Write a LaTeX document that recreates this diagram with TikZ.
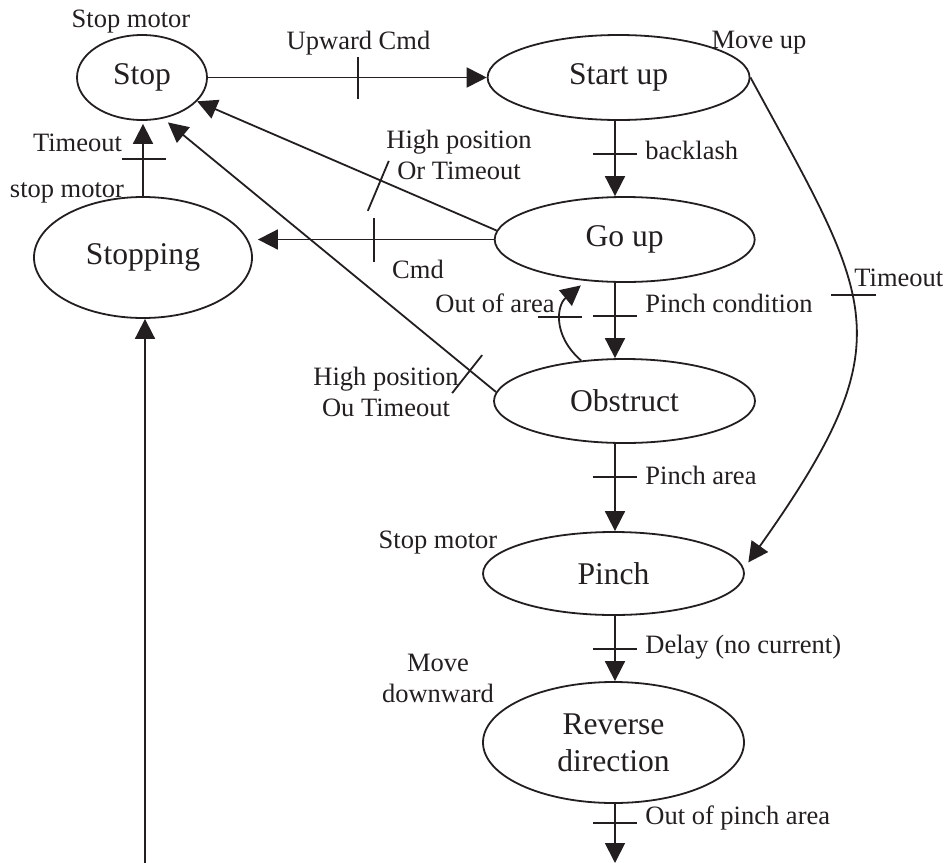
\documentclass[tikz,border=0pt]{standalone}
\usepackage{fontspec}
\setmainfont{Liberation Serif}
\usetikzlibrary{arrows.meta,shapes.geometric,calc}
\definecolor{ink}{HTML}{231F20}
\begin{document}
\begin{tikzpicture}[x=0.5pt,y=-0.5pt,
  state/.style={ellipse,draw=ink,line width=0.9pt,inner sep=0pt,text=ink,
    font=\fontsize{15.8}{18.5}\selectfont,align=center},
  lbl/.style={inner sep=0pt,text=ink,font=\fontsize{13.25}{15.5}\selectfont,align=center},
  trans/.style={draw=ink,line width=0.9pt,-{Triangle[length=10pt,width=10pt]}},
  tickmark/.style={draw=ink,line width=0.9pt},
]
\useasboundingbox (0,0) rectangle (949,863);

% states
\node[state,minimum width=65pt,minimum height=42.5pt]    (stop)     at (142,77.5)    {Stop};
\node[state,minimum width=131pt,minimum height=42.5pt]   (startup)  at (618.6,77.5)  {Start up};
\node[state,minimum width=130pt,minimum height=42.5pt]   (goup)     at (624.7,239.5) {Go up};
\node[state,minimum width=109pt,minimum height=60.5pt]   (stopping) at (143,257.5)   {Stopping};
\node[state,minimum width=130.5pt,minimum height=42pt]   (obstruct) at (624.5,401)   {Obstruct};
\node[state,minimum width=130.5pt,minimum height=41.5pt] (pinch)    at (613.5,573.5) {Pinch};
\node[state,minimum width=130.5pt,minimum height=60.5pt] (reverse)  at (613.5,742.5) {Reverse\\direction};

% helper points
\coordinate (spine) at (615,0);
\coordinate (feed)  at (145,863);
\coordinate (exit)  at (615,863);

% Stop -> Start up
\draw[trans] (stop.east) -- (startup.west) coordinate[pos=0.538] (k1);
\draw[tickmark] ($(k1)+(0,-21)$) -- ($(k1)+(0,21)$);

% Start up -> Go up
\draw[trans] (startup.south -| spine) -- (goup.north -| spine) coordinate[pos=0.44] (k2);
\draw[tickmark] ($(k2)+(-22,0)$) -- ($(k2)+(22,0)$);

% Go up -> Stop
\draw[trans] (goup.176) -- (stop) coordinate[pos=0.395] (k3);
\draw[tickmark] ($(k3)+(-10.5,31.4)$) -- ($(k3)+(10.5,-18.6)$);

% Go up -> Stopping
\coordinate (cmdtip) at ($(stopping.east |- goup.west)+(5,0)$);
\draw[trans] (goup.west) -- (cmdtip) coordinate[pos=0.508] (k4);
\draw[tickmark] ($(k4)+(0,-21.5)$) -- ($(k4)+(0,22.5)$);

% Obstruct -> Stop
\draw[trans] (obstruct.176) -- ($(stop.-57)+(0,5)$) coordinate[pos=0.088] (k5);
\draw[tickmark] ($(k5)+(-15,24.8)$) -- ($(k5)+(15,-13.2)$);

% Stopping -> Stop
\draw[trans] (stopping.north) -- ($(stopping.north |- stop.south)+(0,3)$) coordinate[pos=0.514] (k6);
\draw[tickmark] ($(k6)+(-21,0)$) -- ($(k6)+(23,0)$);

% entry into Stopping
\draw[trans] (feed) -- (feed |- stopping.south);

% Go up -> Obstruct
\draw[trans] (goup.south -| spine) -- (obstruct.north -| spine) coordinate[pos=0.44] (k7);
\draw[tickmark] ($(k7)+(-22,0)$) -- ($(k7)+(22,0)$);

% Obstruct -> Go up
\draw[trans] (obstruct.137) .. controls (552,335) and (557,305) .. ($(goup.223)+(0,5)$) coordinate[pos=0.55] (k8);
\draw[tickmark] ($(k8)+(-23.6,0)$) -- ($(k8)+(20.4,0)$);

% Start up -> Pinch
\draw[trans] (startup.east) .. controls (872.7,302.6) and (907.2,338.4) .. ($(pinch.5)+(8,0)$) coordinate[pos=0.435] (k9);
\draw[tickmark] ($(k9)+(-20,0)$) -- ($(k9)+(25,0)$);

% Obstruct -> Pinch
\draw[trans] (obstruct.south -| spine) -- (pinch.north -| spine) coordinate[pos=0.38] (k10);
\draw[tickmark] ($(k10)+(-22,0)$) -- ($(k10)+(22,0)$);

% Pinch -> Reverse direction
\draw[trans] (pinch.south -| spine) -- (reverse.north -| spine) coordinate[pos=0.51] (k11);
\draw[tickmark] ($(k11)+(-22,0)$) -- ($(k11)+(22,0)$);

% Reverse direction -> out
\draw[trans] (reverse.south -| spine) -- (exit) coordinate[pos=0.317] (k12);
\draw[tickmark] ($(k12)+(-22,0)$) -- ($(k12)+(22,0)$);

% labels
\node[lbl] (lstopmotor) at (131,22) {Stop motor};
\node[lbl] (lupward) at (358.5,43) {Upward Cmd};
\node[lbl] (lmoveup) at (759,43) {Move up};
\node[lbl] (ltimeoutl) at (77.5,143) {Timeout};
\node[lbl] (lstopmotor2) at (67,193) {stop motor};
\node[lbl] (lhigh1) at (459,155) {High position\\Or Timeout};
\node[lbl] (lcmd) at (418,269) {Cmd};
\node[lbl,anchor=west] (lbacklash) at (645,150) {backlash};
\node[lbl] (loutarea) at (495,303) {Out of area};
\node[lbl,anchor=west] (lpinchcond) at (645,303) {Pinch condition};
\node[lbl,anchor=west] (ltimeoutr) at (854,278) {Timeout};
\node[lbl] (lhigh2) at (386,392) {High position\\Ou Timeout};
\node[lbl,anchor=west] (lpincharea) at (645,475) {Pinch area};
\node[lbl] (lstopmotor3) at (438,543) {Stop motor};
\node[lbl,anchor=west] (ldelay) at (645,647) {Delay (no current)};
\node[lbl] (lmovedown) at (438,678) {Move\\downward};
\node[lbl,anchor=west] (loutpinch) at (645,818) {Out of pinch area};
\end{tikzpicture}
\end{document}
